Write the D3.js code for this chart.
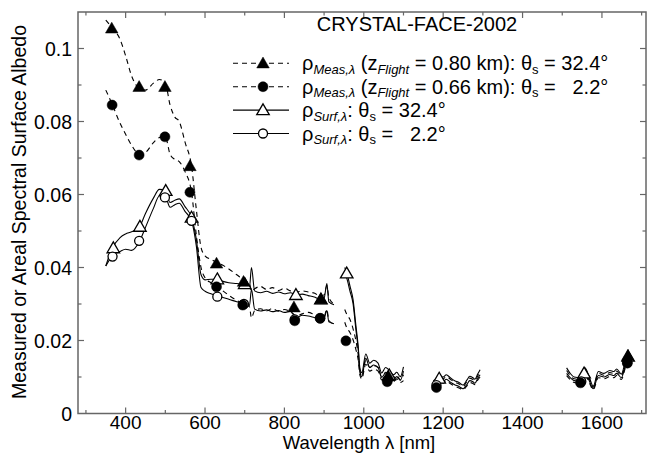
<!DOCTYPE html>
<html><head><meta charset="utf-8">
<script src="https://cdn.jsdelivr.net/npm/d3@7"></script>
<style>body{margin:0;background:#fff} text{font-family:"Liberation Sans",Arial,sans-serif;fill:#000}</style>
</head><body><svg id="c" width="647" height="453"></svg>
<script>
const wavelength = [350,365,386,400,415,435,450,470,485,500,512,524,535,550,566,578,590,600,615,630,
645,660,680,700,712,717,725,740,755,770,785,800,815,830,845,860,875,890,900,907,912,925,940,
952,957,965,973,980,986,990,995,1005,1015,1025,1036,1045,1055,1064,1075,1083,1092,1100,1140,
1175,1183,1190,1200,1208,1218,1229,1240,1250,1260,1267,1275,1280,1287,1293,1400,
1511,1520,1530,1545,1557,1568,1578,1591,1605,1620,1630,1637,1649,1658,1666];

const measHigh = [0.1078,0.1058,0.1025,0.0980,0.0925,0.0890,0.0886,0.0905,0.0915,0.0905,0.0845,0.0812,0.0800,0.0742,0.0678,0.0560,0.0455,0.0432,0.0422,0.0414,
0.0406,0.0396,0.0380,0.0364,0.0356,0.0335,0.0342,0.0348,0.0340,0.0345,0.0337,0.0343,0.0336,0.0332,0.0336,0.0333,0.0330,0.0322,0.0325,0.0350,0.0318,0.0300,null,
0.0285,0.0272,0.0258,0.0232,0.0200,0.0160,0.0118,0.0102,0.0145,0.0126,0.0131,0.0126,0.0101,0.0113,0.0110,0.0098,0.0105,0.0092,0.0106,null,
0.0086,0.0090,0.0098,0.0095,0.0101,0.0094,0.0086,0.0081,0.0074,0.0088,0.0097,0.0093,0.0090,0.0103,0.0114,null,
0.0118,0.0104,0.0095,0.0093,0.0118,0.0095,0.0072,0.0110,0.0105,0.0112,0.0110,0.0116,0.0103,0.0134,0.0168];

const measLow = [0.0886,0.0850,0.0795,0.0765,0.0735,0.0710,0.0715,0.0742,0.0756,0.0758,0.0710,0.0696,0.0690,0.0662,0.0606,0.0490,0.0400,0.0372,0.0358,0.0348,
0.0336,0.0324,0.0310,0.0299,0.0292,0.0262,0.0282,0.0287,0.0281,0.0288,0.0280,0.0285,0.0279,0.0268,0.0273,0.0277,0.0271,0.0264,0.0266,0.0285,0.0255,0.0245,null,
0.0250,0.0235,0.0222,0.0202,0.0176,0.0146,0.0106,0.0095,0.0135,0.0116,0.0121,0.0116,0.0092,0.0101,0.0093,0.0088,0.0095,0.0085,0.0090,null,
0.0074,0.0079,0.0085,0.0083,0.0089,0.0082,0.0075,0.0070,0.0065,0.0076,0.0085,0.0082,0.0079,0.0091,0.0100,null,
0.0104,0.0093,0.0085,0.0083,0.0106,0.0085,0.0065,0.0098,0.0095,0.0101,0.0098,0.0104,0.0093,0.0122,0.0152];

const surfHigh = [0.0404,0.0450,0.0482,0.0492,0.0498,0.0512,0.0548,0.0590,0.0614,0.0612,0.0578,0.0584,0.0588,0.0566,0.0537,0.0478,0.0380,0.0366,0.0368,0.0368,
0.0362,0.0358,0.0356,0.0352,0.0346,0.0400,0.0336,0.0331,0.0335,0.0329,0.0333,0.0328,0.0331,0.0325,0.0327,0.0323,0.0319,0.0313,0.0316,0.0356,0.0306,0.0298,null,
0.0400,0.0386,0.0350,0.0312,0.0242,0.0183,0.0126,0.0112,0.0163,0.0138,0.0146,0.0138,0.0111,0.0126,0.0119,0.0106,0.0113,0.0101,0.0128,null,
0.0090,0.0095,0.0103,0.0100,0.0106,0.0098,0.0090,0.0085,0.0078,0.0092,0.0102,0.0098,0.0094,0.0108,0.0120,null,
0.0125,0.0110,0.0100,0.0098,0.0125,0.0100,0.0075,0.0115,0.0110,0.0118,0.0115,0.0122,0.0108,0.0140,0.0175];

const surfLow = [0.0404,0.0430,0.0444,0.0450,0.0447,0.0472,0.0510,0.0562,0.0596,0.0594,0.0565,0.0572,0.0576,0.0553,0.0528,0.0460,0.0345,0.0335,0.0328,0.0322,
0.0318,0.0313,0.0306,0.0300,0.0296,0.0340,0.0286,0.0281,0.0284,0.0279,0.0282,0.0277,0.0280,0.0262,0.0269,0.0267,0.0263,0.0259,0.0261,0.0282,0.0251,0.0246,null,
0.0382,0.0371,0.0336,0.0301,0.0231,0.0175,0.0116,0.0101,0.0151,0.0126,0.0133,0.0126,0.0099,0.0111,0.0101,0.0093,0.0101,0.0091,0.0116,null,
0.0078,0.0083,0.0090,0.0088,0.0094,0.0086,0.0079,0.0074,0.0068,0.0080,0.0090,0.0087,0.0083,0.0096,0.0106,null,
0.0110,0.0098,0.0090,0.0088,0.0112,0.0090,0.0068,0.0104,0.0100,0.0107,0.0104,0.0110,0.0098,0.0128,0.0160];

const measHighMarkWl  = [365,434,499,562,629,697,824,892,1062,1665];
const measHighMarkVal = [0.1055,0.0895,0.0895,0.0678,0.0411,0.0361,0.0291,0.0313,0.0102,0.0158];
const measLowMarkWl   = [366,434,499,562,629,695,826,890,955,1059,1183,1546,1664];
const measLowMarkVal  = [0.0845,0.0708,0.0758,0.0606,0.0347,0.0297,0.0254,0.0261,0.0199,0.0087,0.0071,0.0084,0.0138];
const surfHighMarkWl  = [369,436,501,566,631,700,829,892,957,1064,1190,1555,1666];
const surfHighMarkVal = [0.0453,0.0512,0.0610,0.0537,0.0368,0.0355,0.0325,0.0313,0.0384,0.0105,0.0096,0.0110,0.0156];
const surfLowMarkWl   = [367,434,499,566,631,698,826,890,1060,1183,1548,1664];
const surfLowMarkVal  = [0.0430,0.0473,0.0592,0.0528,0.0320,0.0300,0.0258,0.0261,0.0092,0.0078,0.0088,0.0140];

const xMajorTicks = [400,600,800,1000,1200,1400,1600];
const yMajorTicks = [0,0.02,0.04,0.06,0.08,0.1];
const yTickLabels = ["0","0.02","0.04","0.06","0.08","0.1"];

const svg = d3.select("#c");
const L=78,R=646,T=12,B=413.5;
const x = d3.scaleLinear().domain([280,1711]).range([L,R]);
const y = d3.scaleLinear().domain([0,0.11]).range([B,T]);
const axisCol="#666";

svg.append("rect").attr("x",L).attr("y",T).attr("width",R-L).attr("height",B-T)
  .attr("fill","none").attr("stroke",axisCol).attr("stroke-width",1.5);

const xMinor = d3.range(300,1701,100).filter(v=>!xMajorTicks.includes(v));
const yMinor = [0.01,0.03,0.05,0.07,0.09];
const tk = svg.append("g").attr("stroke",axisCol).attr("stroke-width",1.2);
function xt(v,len){ tk.append("line").attr("x1",x(v)).attr("x2",x(v)).attr("y1",B).attr("y2",B-len);
  tk.append("line").attr("x1",x(v)).attr("x2",x(v)).attr("y1",T).attr("y2",T+len);}
function yt(v,len){ tk.append("line").attr("y1",y(v)).attr("y2",y(v)).attr("x1",L).attr("x2",L+len);
  tk.append("line").attr("y1",y(v)).attr("y2",y(v)).attr("x1",R).attr("x2",R-len);}
xMajorTicks.forEach(v=>xt(v,6)); xMinor.forEach(v=>xt(v,3.5));
yMajorTicks.slice(1).forEach(v=>yt(v,6)); yMinor.forEach(v=>yt(v,3.5));

svg.append("g").selectAll("text").data(xMajorTicks).join("text")
  .attr("x",d=>x(d)).attr("y",428.5).attr("text-anchor","middle").attr("font-size",19).text(d=>d);
svg.append("g").selectAll("text").data(yMajorTicks).join("text")
  .attr("x",L-6).attr("y",d=>y(d)+7).attr("text-anchor","end").attr("font-size",19.5).text((d,i)=>yTickLabels[i]);

svg.append("text").attr("x",359).attr("y",449).attr("text-anchor","middle").attr("font-size",18.5)
  .text("Wavelength λ [nm]");
svg.append("text").attr("transform","translate(26,212) rotate(-90)").attr("text-anchor","middle")
  .attr("font-size",19.5).text("Measured or Areal Spectral Surface Albedo");

const line = d3.line().defined(d=>d[1]!=null).x(d=>x(d[0])).y(d=>y(d[1])).curve(d3.curveMonotoneX);
function series(vals){ return wavelength.map((w,i)=>[w,vals[i]]); }
const plot = svg.append("g");
[[measHigh,"5,4"],[measLow,"5,4"],[surfHigh,null],[surfLow,null]].forEach(([v,dash])=>{
  plot.append("path").attr("d",line(series(v))).attr("fill","none").attr("stroke","#000")
    .attr("stroke-width",1.1).attr("stroke-dasharray",dash);
});

const triPath = d3.symbol().type(d3.symbolTriangle).size(68)();
function tri(g,cx,cy,filled){
  g.append("path").attr("d",triPath).attr("transform",`translate(${cx},${cy+1})`)
   .attr("fill",filled?"#000":"#fff").attr("stroke","#000").attr("stroke-width",filled?0.5:1.3);
}
function cir(g,cx,cy,filled){
  g.append("circle").attr("cx",cx).attr("cy",cy).attr("r",filled?5:4.5)
   .attr("fill",filled?"#000":"#fff").attr("stroke","#000").attr("stroke-width",filled?0.5:1.3);
}
const mk = svg.append("g");
surfHighMarkWl.forEach((w,i)=>tri(mk,x(w),y(surfHighMarkVal[i]),false));
surfLowMarkWl.forEach((w,i)=>cir(mk,x(w),y(surfLowMarkVal[i]),false));
measLowMarkWl.forEach((w,i)=>cir(mk,x(w),y(measLowMarkVal[i]),true));
measHighMarkWl.forEach((w,i)=>tri(mk,x(w),y(measHighMarkVal[i]),true));

const lg = svg.append("g");
lg.append("text").attr("x",417).attr("y",31).attr("text-anchor","middle").attr("font-size",20).text("CRYSTAL-FACE-2002");
const rows = [
  {dash:"5,4",m:"tri",f:true, parts:[["ρ"],["Meas,λ","sub",true],[" (z"],["Flight","sub",true],[" = 0.80 km): θ"],["s","sub",false],[" = 32.4°"]]},
  {dash:"5,4",m:"cir",f:true, parts:[["ρ"],["Meas,λ","sub",true],[" (z"],["Flight","sub",true],[" = 0.66 km): θ"],["s","sub",false],[" =   2.2°"]]},
  {dash:null,m:"tri",f:false,parts:[["ρ"],["Surf,λ","sub",true],[": θ"],["s","sub",false],[" = 32.4°"]]},
  {dash:null,m:"cir",f:false,parts:[["ρ"],["Surf,λ","sub",true],[": θ"],["s","sub",false],[" =   2.2°"]]}
];
rows.forEach((r,i)=>{
  const ly = 63.3 + i*23.4;
  lg.append("line").attr("x1",233).attr("x2",289).attr("y1",ly).attr("y2",ly)
    .attr("stroke","#000").attr("stroke-width",1.1).attr("stroke-dasharray",r.dash);
  if(r.m==="tri") tri(lg,263,ly,r.f); else cir(lg,263,ly,r.f);
  const t = lg.append("text").attr("x",302).attr("y",ly+7).attr("font-size",20).style("white-space","pre");
  let sub=false;
  r.parts.forEach(p=>{
    const ts = t.append("tspan").text(p[0]);
    if(p[1]==="sub"){ ts.attr("font-size",13).attr("dy",sub?0:3.5).attr("font-style",p[2]?"italic":"normal"); sub=true; }
    else { if(sub){ ts.attr("dy",-3.5); sub=false; } }
  });
});
</script></body></html>
